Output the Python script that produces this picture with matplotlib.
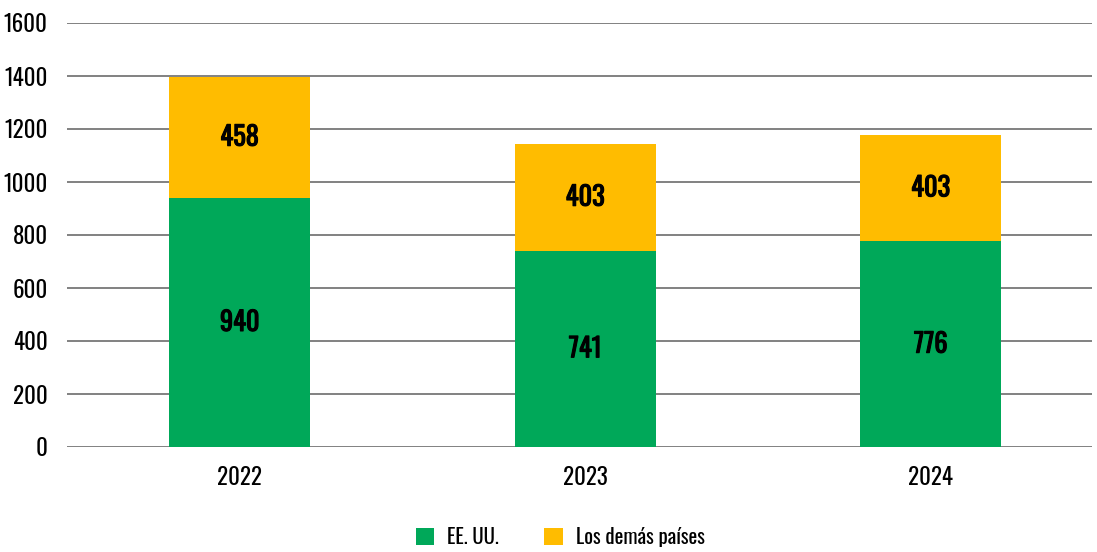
import matplotlib
matplotlib.use("Agg")
import matplotlib.pyplot as plt
from matplotlib import font_manager as fm
import matplotlib.patheffects as pe
import numpy as np

years = ["2022", "2023", "2024"]
eeuu = [940, 741, 776]
otros = [458, 403, 403]
series_names = ["EE. UU.", "Los demás países"]
yticks = [0, 200, 400, 600, 800, 1000, 1200, 1400, 1600]

green = "#00A859"
yellow = "#FFBC00"

names = {f.name for f in fm.fontManager.ttflist}
fam = "DejaVu Sans"
for cand in ["Oswald", "Antonio", "Barlow Condensed", "Roboto Condensed",
             "Pathway Gothic One", "Liberation Sans Narrow"]:
    if cand in names:
        fam = cand
        break
plt.rcParams["font.family"] = [fam, "DejaVu Sans"]

fig = plt.figure(figsize=(10.97, 5.52), dpi=100)
ax = fig.add_axes([67/1097, 1-447/552, (1092-67)/1097, 424/552])

x = np.arange(len(years))
w = 0.408
b1 = ax.bar(x, eeuu, w, color=green, label=series_names[0], zorder=3)
b2 = ax.bar(x, otros, w, bottom=eeuu, color=yellow, label=series_names[1], zorder=3)

heavy = [pe.withStroke(linewidth=0.8, foreground="black")]
for i in range(len(years)):
    ax.text(x[i], eeuu[i]/2, str(eeuu[i]), ha="center", va="center",
            fontsize=19, fontweight="bold", color="black", zorder=4,
            path_effects=heavy)
    ax.text(x[i], eeuu[i] + otros[i]/2, str(otros[i]), ha="center", va="center",
            fontsize=19, fontweight="bold", color="black", zorder=4,
            path_effects=heavy)

ax.set_xlim(-0.5, 2.467)
ax.set_ylim(0, 1600)
ax.set_yticks(yticks)
ax.set_yticklabels([str(v) for v in yticks], fontsize=16.5, fontweight="light")
ax.set_xticks(x)
ax.set_xticklabels(years, fontsize=16.5, fontweight="light")
ax.yaxis.grid(True, color="#777777", linewidth=1.3, zorder=0)
ax.tick_params(axis="both", length=0)
ax.tick_params(axis="y", pad=14)
ax.tick_params(axis="x", pad=14)
for s in ax.spines.values():
    s.set_visible(False)

leg = fig.legend(handles=[b1, b2], labels=series_names, loc="center",
                 bbox_to_anchor=(560/1097, 1-537/552), ncol=2, frameon=False,
                 prop={"size": 15, "weight": "light"},
                 handlelength=0.9, handleheight=0.9,
                 columnspacing=2.2, handletextpad=0.6)

fig.savefig("out.png", dpi=100)
